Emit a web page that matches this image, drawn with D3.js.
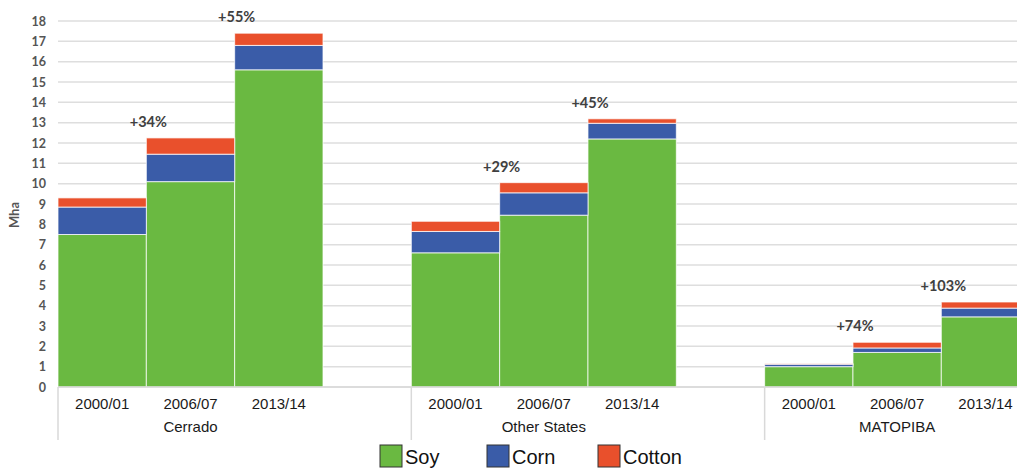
<!DOCTYPE html>
<html>
<head>
<meta charset="utf-8">
<script src="https://cdn.jsdelivr.net/npm/d3@7"></script>
<style>
  html, body { margin: 0; padding: 0; background: #fff; }
  svg { display: block; }
</style>
</head>
<body>
<svg id="chart" width="1017" height="468"></svg>
<script>
// Harvested area by region and crop season (million hectares)
const regions = ["Cerrado", "Other States", "MATOPIBA"];
const seasons = ["2000/01", "2006/07", "2013/14"];
const crops = ["Soy", "Corn", "Cotton"];

// One entry per region, one value per season
const soy    = [[7.5, 10.1, 15.6], [6.6, 8.45, 12.2], [1.0, 1.7, 3.45]];
const corn   = [[1.35, 1.35, 1.2], [1.05, 1.1, 0.77], [0.12, 0.22, 0.43]];
const cotton = [[0.45, 0.8, 0.6], [0.5, 0.5, 0.22], [0.02, 0.28, 0.3]];

// Soy growth versus previous season (no label for the first season)
const growth = [[null, "+34%", "+55%"], [null, "+29%", "+45%"], [null, "+74%", "+103%"]];

const yTicks = d3.range(0, 19, 1);
const colors = ["#6ab941", "#3a5ca8", "#e9502c"];

const svg = d3.select("#chart");
const plotLeft = 58, plotBottom = 387, plotTop = 21;
const slot = 88.33;

// Each region gets four slots: three seasons plus one empty spacer
const xRegion = d3.scaleBand().domain(regions).range([plotLeft, plotLeft + regions.length * 4 * slot]).paddingInner(0).paddingOuter(0);
const xSeason = d3.scaleBand().domain(seasons).range([0, 3 * slot]).padding(0);
const y = d3.scaleLinear().domain([0, 18]).range([plotBottom, plotTop]);
const color = d3.scaleOrdinal().domain(crops).range(colors);

// Gridlines
const grid = svg.append("g").attr("class", "grid");
grid.selectAll("line").data(yTicks).join("line")
  .attr("x1", plotLeft).attr("x2", 1017)
  .attr("y1", d => y(d)).attr("y2", d => y(d))
  .attr("stroke", "#dedede").attr("stroke-width", 1.5);

// Y axis labels
const yAxis = d3.axisLeft(y).tickValues(yTicks).tickSize(0).tickPadding(0).tickFormat(d3.format("d"));
const yg = svg.append("g").attr("transform", `translate(${plotLeft - 12},0)`).call(yAxis);
yg.select(".domain").remove();
yg.selectAll("text")
  .attr("font-family", "Lato, 'Open Sans', sans-serif")
  .attr("font-weight", "bold").attr("font-size", 12.5).attr("fill", "#555");

svg.append("text")
  .attr("transform", "translate(19,215) rotate(-90)")
  .attr("text-anchor", "middle")
  .attr("font-family", "Lato, 'Open Sans', sans-serif")
  .attr("font-weight", "bold").attr("font-size", 13).attr("fill", "#555")
  .text("Mha");

// Stacked rows
const rows = [];
regions.forEach((r, ri) => seasons.forEach((s, si) => {
  rows.push({ region: r, season: s, Soy: soy[ri][si], Corn: corn[ri][si], Cotton: cotton[ri][si], label: growth[ri][si] });
}));
const stacked = d3.stack().keys(crops)(rows);

const bars = svg.append("g").attr("class", "bars");
bars.selectAll("g").data(stacked).join("g")
  .attr("fill", d => color(d.key))
  .selectAll("rect").data(d => d).join("rect")
  .attr("x", d => xRegion(d.data.region) + xSeason(d.data.season))
  .attr("width", xSeason.bandwidth())
  .attr("y", d => y(d[1]))
  .attr("height", d => y(d[0]) - y(d[1]))
  .attr("stroke", "rgba(255,255,255,0.75)").attr("stroke-width", 1);

// Growth labels, centred on the left edge of each bar
svg.append("g").selectAll("text").data(rows.filter(d => d.label)).join("text")
  .attr("x", d => xRegion(d.region) + xSeason(d.season) + 2)
  .attr("y", d => y(d.Soy + d.Corn + d.Cotton) - 11)
  .attr("text-anchor", "middle")
  .attr("font-family", "Lato, 'Open Sans', sans-serif")
  .attr("font-weight", "bold").attr("font-size", 14.5).attr("fill", "#404040")
  .text(d => d.label);

// Baseline
svg.append("line").attr("x1", plotLeft).attr("x2", 1017)
  .attr("y1", y(0)).attr("y2", y(0))
  .attr("stroke", "#d9d9d9").attr("stroke-width", 1.5);

// Category axis: seasons and region names
const cat = svg.append("g").attr("font-family", "'Liberation Sans', Arial, sans-serif").attr("fill", "#1a1a1a");
regions.forEach(r => {
  const x0 = xRegion(r);
  svg.append("line").attr("x1", x0).attr("x2", x0).attr("y1", y(0)).attr("y2", 440)
    .attr("stroke", "#d9d9d9").attr("stroke-width", 1.5);
  seasons.forEach(s => {
    cat.append("text")
      .attr("x", x0 + xSeason(s) + xSeason.bandwidth() / 2)
      .attr("y", 409)
      .attr("text-anchor", "middle").attr("font-size", 15)
      .text(s);
  });
  cat.append("text")
    .attr("x", x0 + 1.5 * slot)
    .attr("y", 432)
    .attr("text-anchor", "middle").attr("font-size", 15)
    .text(r);
});

// Legend
const legendX = [380, 487, 598];
const legend = svg.append("g").selectAll("g").data(crops).join("g")
  .attr("transform", (d, i) => `translate(${legendX[i]},445)`);
legend.append("rect").attr("width", 22).attr("height", 22)
  .attr("fill", d => color(d)).attr("stroke", "#333").attr("stroke-width", 1);
legend.append("text").attr("x", 25).attr("y", 19)
  .attr("font-family", "'Liberation Sans', Arial, sans-serif")
  .attr("font-size", 20).attr("fill", "#111")
  .text(d => d);
</script>
</body>
</html>
